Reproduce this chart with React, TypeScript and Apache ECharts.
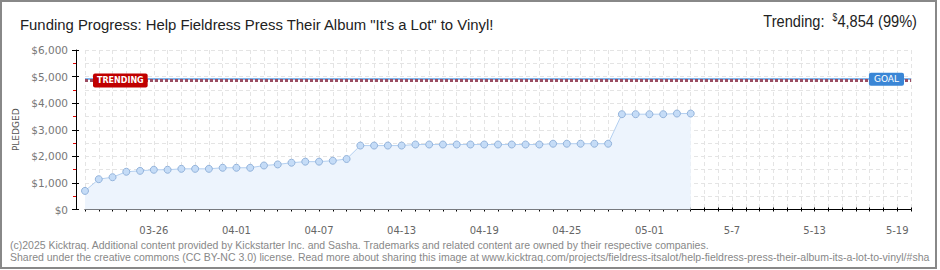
import React, { useEffect, useRef } from "react";
import * as echarts from "echarts";

const categories = [
  "03-21", "03-22", "03-23", "03-24", "03-25", "03-26", "03-27", "03-28", "03-29", "03-30", "03-31",
  "04-01", "04-02", "04-03", "04-04", "04-05", "04-06", "04-07", "04-08", "04-09", "04-10",
  "04-11", "04-12", "04-13", "04-14", "04-15", "04-16", "04-17", "04-18", "04-19", "04-20",
  "04-21", "04-22", "04-23", "04-24", "04-25", "04-26", "04-27", "04-28", "04-29", "04-30",
  "05-01", "05-02", "05-03", "05-04",
  "5-5", "5-6", "5-7", "5-8", "5-9", "5-10", "5-11", "5-12", "5-13", "5-14", "5-15", "5-16",
  "5-17", "5-18", "5-19", "5-20",
];

const tickLabels = ["03-26", "04-01", "04-07", "04-13", "04-19", "04-25", "05-01", "5-7", "5-13", "5-19"];

const pledged = [
  700, 1140, 1215, 1420, 1455, 1495, 1495, 1530, 1530, 1530,
  1570, 1570, 1570, 1655, 1695, 1760, 1800, 1800, 1835, 1900,
  2405, 2405, 2405, 2405,
  2445, 2445, 2445, 2445, 2445, 2445, 2445, 2445, 2445, 2445,
  2475, 2475, 2475, 2475, 2475,
  3585, 3585, 3585, 3585, 3610, 3610,
];

const goal = 4900;
const trending = 4854;
const trendingPct = 99;

const titleText = 'Funding Progress: Help Fieldress Press Their Album "It\'s a Lot" to Vinyl!';
const footerLines = [
  "(c)2025 Kicktraq. Additional content provided by Kickstarter Inc. and Sasha. Trademarks and related content are owned by their respective companies.",
  "Shared under the creative commons (CC BY-NC 3.0) license. Read more about sharing this image at www.kicktraq.com/projects/fieldress-itsalot/help-fieldress-press-their-album-its-a-lot-to-vinyl/#sha",
];

export default function App() {
  const ref = useRef<HTMLDivElement>(null);
  useEffect(() => {
    document.body.style.margin = "0";
    if (!ref.current) return;
    const chart = echarts.init(ref.current, null, { renderer: "svg" });
    const labelFont = "DejaVu Sans";
    const headFont = "Liberation Sans";
    const yMin = 0, yMax = 6000, yInt = 1000;
    chart.setOption({
      animation: false,
      backgroundColor: "#ffffff",
      grid: { left: 85, right: 29, top: 50, bottom: 60.5, containLabel: false },
      xAxis: [
        {
          type: "category",
          data: categories,
          boundaryGap: false,
          position: "bottom",
          offset: 10.5,
          axisLine: { show: true, lineStyle: { color: "#000", width: 1 } },
          axisTick: { show: true, interval: 0, length: 2, lineStyle: { color: "#000" } },
          axisLabel: {
            interval: (i: number) => tickLabels.includes(categories[i]),
            color: "#666",
            fontFamily: labelFont,
            fontSize: 10,
            margin: 5,
          },
          splitLine: {
            show: true,
            interval: 0,
            lineStyle: { color: "#e4e4e4", type: [4, 3], width: 1 },
          },
        },
        {
          type: "category",
          data: categories,
          boundaryGap: false,
          position: "bottom",
          offset: 10.5,
          axisLine: { show: false },
          axisTick: { show: true, inside: true, interval: 0, length: 2, lineStyle: { color: "#000" } },
          axisLabel: { show: false },
          splitLine: { show: false },
        },
      ],
      yAxis: [
        {
          type: "value",
          min: yMin,
          max: yMax,
          interval: yInt,
          offset: 9,
          name: "PLEDGED",
          nameLocation: "middle",
          nameGap: 50,
          nameRotate: 90,
          nameTextStyle: { color: "#555", fontFamily: labelFont, fontSize: 9 },
          axisLine: { show: true, lineStyle: { color: "#000", width: 1 } },
          axisTick: { show: true, length: 4, lineStyle: { color: "#000" } },
          minorTick: { show: true, splitNumber: 2, length: 3, lineStyle: { color: "#e00000" } },
          axisLabel: {
            color: "#777",
            fontFamily: labelFont,
            fontSize: 10.5,
            margin: 8,
            formatter: (v: number) => "$" + v.toLocaleString("en-US"),
          },
          splitLine: { show: true, lineStyle: { color: "#e4e4e4", type: [4, 3] } },
          minorSplitLine: { show: true, lineStyle: { color: "#e4e4e4", type: [4, 3] } },
        },
        {
          type: "value",
          min: yMin,
          max: yMax,
          interval: yInt,
          offset: 9,
          position: "left",
          axisLine: { show: false },
          axisTick: { show: true, inside: true, length: 3, lineStyle: { color: "#000" } },
          axisLabel: { show: false },
          splitLine: { show: false },
        },
      ],
      series: [
        {
          type: "line",
          data: pledged,
          xAxisIndex: 0,
          yAxisIndex: 0,
          symbol: "circle",
          symbolSize: 7,
          showSymbol: true,
          lineStyle: { color: "#b3cff0", width: 1 },
          itemStyle: { color: "#c5dcf7", borderColor: "#93b3db", borderWidth: 1 },
          areaStyle: { color: "#edf4fd", opacity: 1 },
          z: 3,
          markLine: {
            silent: true,
            symbol: "none",
            animation: false,
            data: [
              {
                yAxis: goal,
                lineStyle: { color: "#5a9ee6", width: 1.5, type: "solid" },
                label: {
                  show: true,
                  position: "insideEnd",
                  formatter: "GOAL",
                  color: "#fff",
                  backgroundColor: "#3a86d6",
                  fontFamily: labelFont,
                  fontSize: 9,
                  padding: [2, 5, 2, 5],
                  borderRadius: 2,
                  distance: [7, -6],
                },
              },
              {
                yAxis: trending,
                lineStyle: { color: "#9b4d62", width: 3, type: [3, 2] },
                label: {
                  show: true,
                  position: "insideStart",
                  formatter: "TRENDING",
                  color: "#fff",
                  backgroundColor: "#c00000",
                  fontFamily: labelFont,
                  fontWeight: "bold",
                  fontSize: 8,
                  padding: [3, 4, 3, 4],
                  borderRadius: 2,
                  distance: [8, -6],
                },
              },
            ],
          },
        },
      ],
      graphic: [
        {
          type: "text",
          x: 20,
          y: 24,
          scaleX: 0.96,
          style: {
            text: titleText,
            fontFamily: headFont,
            fontSize: 15.5,
            fill: "#222",
            verticalAlign: "middle",
            align: "left",
          },
        },
        {
          type: "text",
          x: 917,
          y: 21,
          scaleX: 0.86,
          style: {
            text: "{a|Trending:  }{s|$}{a|" + trending.toLocaleString("en-US") + " (" + trendingPct + "%)}",
            align: "right",
            verticalAlign: "middle",
            rich: {
              a: { fontFamily: headFont, fontSize: 17, fill: "#222", color: "#222" },
              s: { fontFamily: headFont, fontSize: 10, fill: "#222", color: "#222", verticalAlign: "top" },
            },
          },
        },
        {
          type: "text",
          x: 10,
          y: 245,
          style: {
            text: footerLines[0],
            fontFamily: headFont,
            fontSize: 10.5,
            fill: "#888",
            verticalAlign: "middle",
          },
        },
        {
          type: "text",
          x: 10,
          y: 256.5,
          style: {
            text: footerLines[1],
            fontFamily: headFont,
            fontSize: 10.5,
            fill: "#888",
            verticalAlign: "middle",
          },
        },
        {
          type: "rect",
          shape: { x: 937, y: 0, width: 3, height: 270 },
          style: { fill: "#fff" },
          z: 100,
        },
        {
          type: "rect",
          shape: { x: 1, y: 1, width: 935, height: 267 },
          style: { fill: "none", stroke: "#888", lineWidth: 2 },
          z: 101,
        },
      ],
    });
    return () => chart.dispose();
  }, []);
  return (
    <div
      ref={ref}
      style={{ position: "absolute", left: 0, top: 0, width: 940, height: 270 }}
    />
  );
}
